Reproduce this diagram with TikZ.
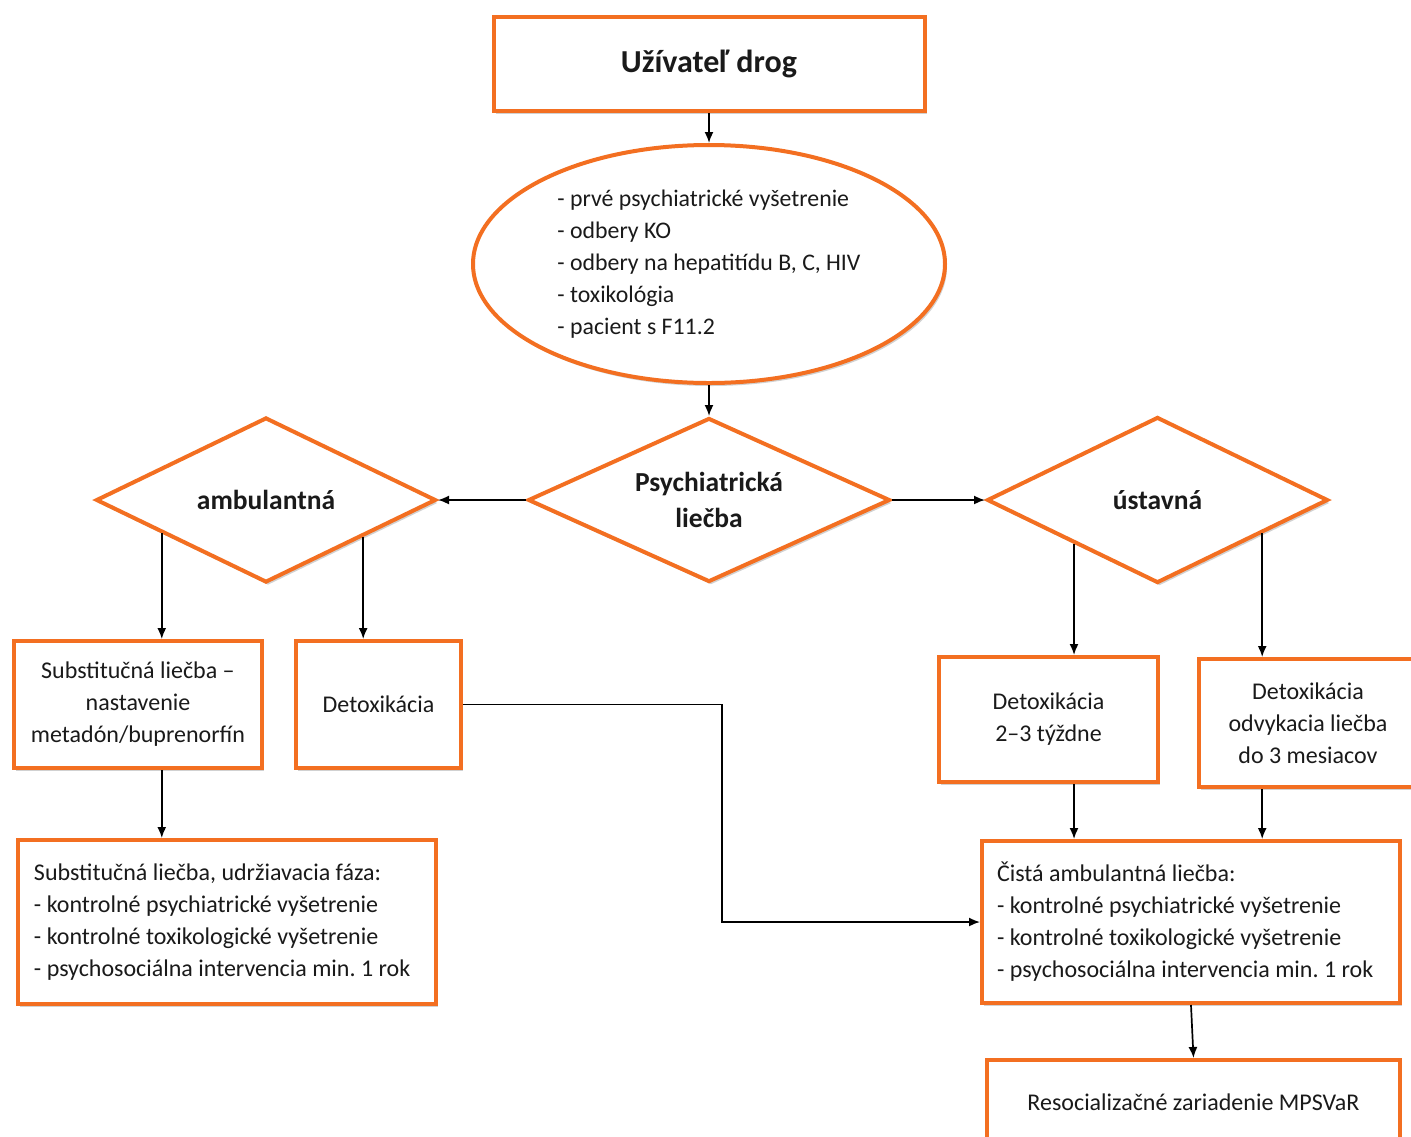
\documentclass[tikz,border=0pt]{standalone}
\usepackage{fontspec}
\setmainfont{Carlito}
\usetikzlibrary{shapes.geometric,arrows.meta,shadows,calc}
\definecolor{ornge}{HTML}{F36F21}
\definecolor{txt}{HTML}{1A1A1A}
\begin{document}
\frenchspacing
\begin{tikzpicture}[x=1pt,y=-1pt,
  every node/.style={text=txt},
  shad/.style={drop shadow={shadow xshift=2pt,shadow yshift=-3pt,opacity=0.18,fill=black}},
  obox/.style={draw=ornge,line width=4pt,fill=white,rectangle,inner sep=0pt,shad,
     font=\fontsize{24}{32}\selectfont\frenchspacing,align=center},
  oell/.style={draw=ornge,line width=4pt,fill=white,ellipse,inner sep=0pt,shad,
     font=\fontsize{23.8}{32}\selectfont\frenchspacing,align=left},
  odia/.style={draw=ornge,line width=4pt,fill=white,diamond,aspect=2.2,inner sep=0pt,shad,
     font=\fontsize{27.5}{36}\selectfont\bfseries,align=center},
  arr/.style={draw=black,line width=1.7pt,-{Latex[length=11pt,width=9pt]}}]
\useasboundingbox (0,0) rectangle (1411,1136);

\node[obox,minimum width=431pt,minimum height=94pt,font=\fontsize{32}{36}\selectfont\bfseries] (top) at (709,64) {Užívateľ drog};

\node[oell,minimum width=472pt,minimum height=238pt] (ell) at (709,264)
 {- prvé psychiatrické vyšetrenie\\- odbery KO\\- odbery na hepatitídu B, C, HIV\\- toxikológia\\- pacient s F11.2};

\node[odia,minimum width=362pt,minimum height=164pt] (psy) at (709,500) {Psychiatrická\\liečba};
\node[odia,minimum width=340pt,minimum height=165pt] (amb) at (266,500) {ambulantná};
\node[odia,minimum width=341pt,minimum height=166pt] (ust) at (1157.5,500) {ústavná};

\node[obox,minimum width=248pt,minimum height=127pt] (sub1) at (138,704.5)
 {Substitučná liečba –\\nastavenie\\metadón/buprenorfín};
\node[obox,minimum width=165pt,minimum height=127pt] (det1) at (378.5,704.5) {Detoxikácia};

\node[obox,minimum width=418pt,minimum height=164pt,text width=386pt,inner xsep=16pt,align=flush left] (sub2) at (227,922)
 {Substitučná liečba, udržiavacia fáza:\\- kontrolné psychiatrické vyšetrenie\\- kontrolné toxikologické vyšetrenie\\- psychosociálna intervencia min. 1 rok};

\node[obox,minimum width=219pt,minimum height=125pt] (det2) at (1048.5,719.5) {Detoxikácia\\2–3 týždne};
\node[obox,minimum width=218pt,minimum height=128pt] (det3) at (1308,723) {Detoxikácia\\odvykacia liečba\\do 3 mesiacov};

\node[obox,minimum width=418pt,minimum height=162pt,text width=388pt,inner xsep=15pt,align=flush left] (cista) at (1191,922)
 {Čistá ambulantná liečba:\\- kontrolné psychiatrické vyšetrenie\\- kontrolné toxikologické vyšetrenie\\- psychosociálna intervencia min. 1 rok};

\node[obox,minimum width=413pt,minimum height=84pt] (reso) at (1193.5,1102) {Resocializačné zariadenie MPSVaR};

% connectors
\draw[arr] (top.south) -- (ell.north);
\draw[arr] (ell.south) -- (psy.north);
\draw[arr] (psy.west) -- (amb.east);
\draw[arr] (psy.east) -- (ust.west);

\coordinate (a1) at ($(amb.west)!0.394!(amb.south)$);
\coordinate (a2) at ($(amb.east)!0.435!(amb.south)$);
\draw[arr] (a1) -- (a1 |- sub1.north);
\draw[arr] (a2) -- (a2 |- det1.north);

\coordinate (u1) at ($(ust.west)!0.516!(ust.south)$);
\coordinate (u2) at ($(ust.east)!0.393!(ust.south)$);
\draw[arr] (u1) -- (u1 |- det2.north);
\draw[arr] (u2) -- (u2 |- det3.north);

\draw[arr] (a1 |- sub1.south) -- (a1 |- sub2.north);
\draw[arr] (u1 |- det2.south) -- (u1 |- cista.north);
\draw[arr] (u2 |- det3.south) -- (u2 |- cista.north);

\coordinate (jog) at (722,0);
\draw[arr] (det1.east) -- (det1.east -| jog) |- (cista.west);

\draw[arr] (cista.south) -- (reso.north);
\end{tikzpicture}
\end{document}
